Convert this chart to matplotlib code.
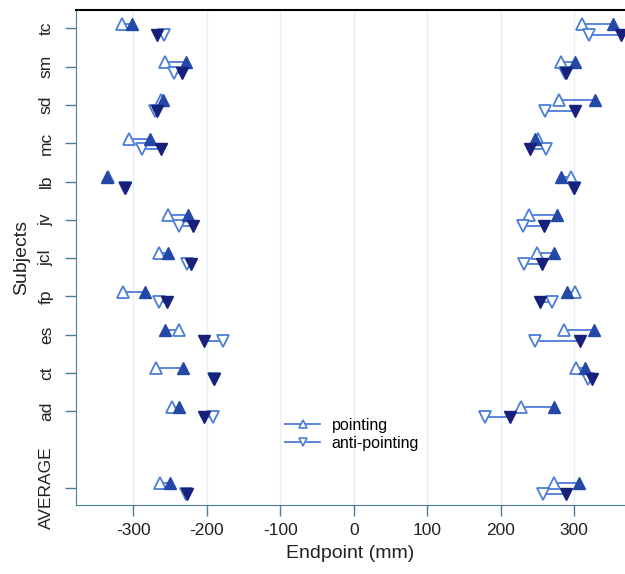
import matplotlib
matplotlib.use("Agg")
import matplotlib.pyplot as plt
from matplotlib.lines import Line2D
import numpy as np

plt.rcParams['font.family'] = ['Liberation Sans', 'DejaVu Sans']

subjects = ["AVERAGE", "ad", "ct", "es", "fp", "jcl", "jv", "lb", "mc", "sd", "sm", "tc"]
ypos = [0, 2, 3, 4, 5, 6, 7, 8, 9, 10, 11, 12]

# Left target (negative side): pointing open / filled, anti-pointing open / filled
left_point_open   = [-264, -247, -269, -238, -314, -265, -253, -335, -306, -262, -257, -316]
left_point_filled = [-250, -238, -233, -257, -284, -253, -226, -336, -277, -260, -229, -302]
left_anti_open    = [-228, -192, -190, -178, -265, -227, -238, -311, -288, -270, -245, -258]
left_anti_filled  = [-227, -204, -190, -204, -254, -221, -219, -311, -263, -268, -234, -268]

# Right target (positive side)
right_point_open   = [272, 227, 302, 286, 301, 249, 238, 295, 250, 279, 282, 310]
right_point_filled = [306, 273, 315, 327, 290, 272, 276, 282, 247, 328, 301, 352]
right_anti_open    = [258, 178, 318, 246, 269, 231, 230, 300, 261, 260, 287, 320]
right_anti_filled  = [289, 213, 324, 308, 254, 256, 259, 300, 240, 301, 289, 363]

xticks = [-300, -200, -100, 0, 100, 200, 300]

c_line = '#3f6fd6'
c_open = '#4a7ed8'
c_fill_up = '#2448a8'
c_fill_dn = '#17207a'

fig = plt.figure(figsize=(6.25, 5.74), dpi=100)
ax = fig.add_axes([76/625, 1-505/574, 1-76/625, (505-10)/574])

y = np.array(ypos, dtype=float)
yu = y + 0.12
yd = y - 0.16
ms = 8

for po, pf, ao, af in [(left_point_open, left_point_filled, left_anti_open, left_anti_filled),
                       (right_point_open, right_point_filled, right_anti_open, right_anti_filled)]:
    for i in range(len(y)):
        ax.plot([po[i], pf[i]], [yu[i], yu[i]], color=c_line, lw=1.2, zorder=2)
        ax.plot([ao[i], af[i]], [yd[i], yd[i]], color=c_line, lw=1.2, zorder=2)
    ax.plot(po, yu, ls='none', marker='^', ms=ms, mfc='white', mec=c_open, mew=1.3, zorder=3)
    ax.plot(pf, yu, ls='none', marker='^', ms=ms, mfc=c_fill_up, mec=c_fill_up, mew=1.0, zorder=4)
    ax.plot(ao, yd, ls='none', marker='v', ms=ms, mfc='white', mec=c_open, mew=1.3, zorder=3)
    ax.plot(af, yd, ls='none', marker='v', ms=ms, mfc=c_fill_dn, mec=c_fill_dn, mew=1.0, zorder=4)

ax.set_xlim(-378, 369)
ax.set_ylim(-0.45, 12.48)
ax.set_xticks(xticks)
ax.set_xticklabels([str(t) for t in xticks])
ax.set_yticks(ypos)
ax.set_yticklabels(subjects, rotation=90, va='center')

for t in xticks:
    ax.axvline(t, color='#e6eef7', lw=1.0, zorder=0)

spine_c = '#4a7f9c'
ax.spines['left'].set_color(spine_c)
ax.spines['bottom'].set_color(spine_c)
ax.spines['top'].set_color('black')
ax.spines['top'].set_linewidth(1.5)
ax.spines['right'].set_visible(False)
ax.tick_params(axis='both', colors=spine_c, length=8, width=1.0, labelsize=12.5, labelcolor='#222222')
ax.tick_params(axis='x', pad=5)
ax.tick_params(axis='y', pad=8)

ax.set_xlabel('Endpoint (mm)', fontsize=14, color='#222222', labelpad=5)
ax.set_ylabel('Subjects', fontsize=14, color='#222222', labelpad=6)

handles = [
    Line2D([0], [0], color=c_line, lw=1.2, marker='^', ms=6, mfc='white', mec=c_open, mew=1.2),
    Line2D([0], [0], color=c_line, lw=1.2, marker='v', ms=6, mfc='white', mec=c_open, mew=1.2),
]
ax.legend(handles, ['pointing', 'anti-pointing'], loc='center left',
          bbox_to_anchor=(0.355, 0.143), frameon=False, fontsize=11.5,
          handlelength=2.2, handletextpad=0.7, labelspacing=0.2)

fig.savefig('out.png', dpi=100)
